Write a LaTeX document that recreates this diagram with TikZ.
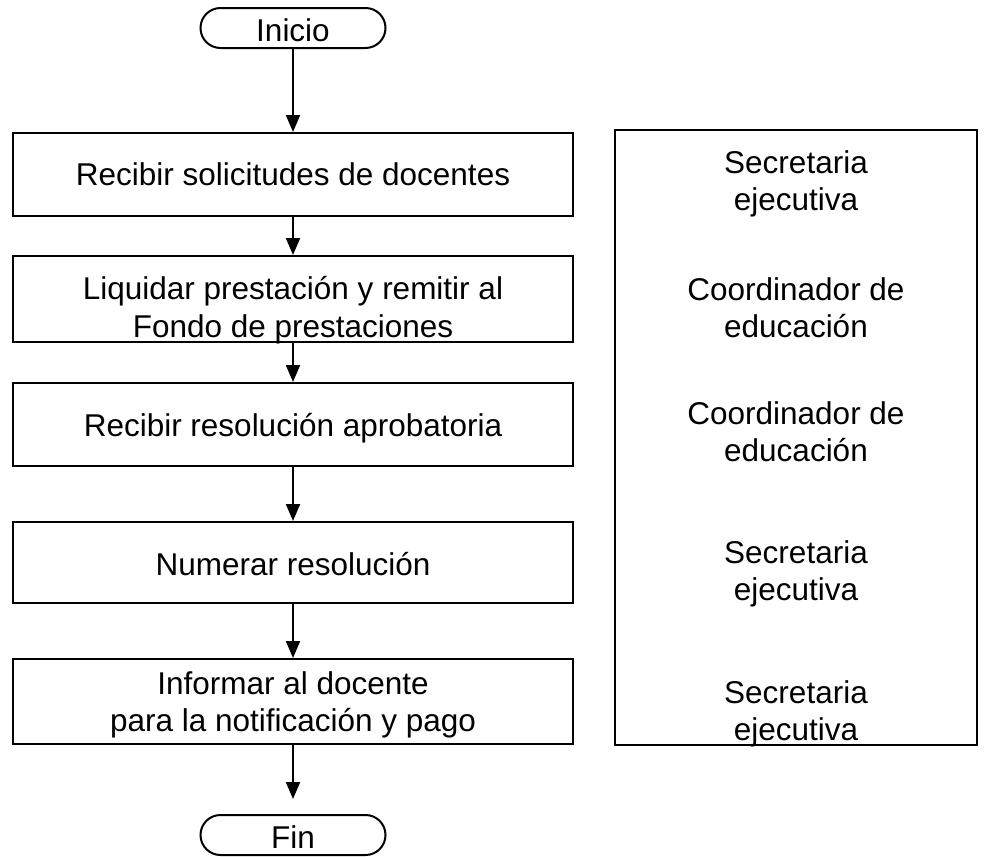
\documentclass[tikz,border=0pt]{standalone}
\usepackage{fontspec}
\setmainfont{Liberation Sans}
\usetikzlibrary{arrows.meta,shapes.misc}
\begin{document}
\begin{tikzpicture}[x=1pt,y=-1pt,
  font=\fontsize{31.5}{37}\selectfont,
  line width=2pt,
  stepbox/.style={draw, rectangle, minimum width=560pt, inner sep=0pt},
  term/.style={draw, rounded rectangle, minimum width=185pt, minimum height=40pt, inner sep=0pt},
  txt/.style={anchor=base, inner sep=0pt},
  arr/.style={-{Triangle[width=14pt,length=17pt]}}]
\useasboundingbox (0,0) rectangle (989,857);
\fill[white] (0,0) rectangle (989,857);

% terminators
\node[term] (ini) at (293,28) {};
\node[txt] (tini) at (293,41) {Inicio};
\node[term] (fin) at (293,835) {};
\node[txt] (tfin) at (293,848) {Fin};

% process boxes
\node[stepbox, minimum height=83pt] (b1) at (293,174.5) {};
\node[stepbox, minimum height=86pt] (b2) at (293,299) {};
\node[stepbox, minimum height=83pt] (b3) at (293,424.5) {};
\node[stepbox, minimum height=81pt] (b4) at (293,562.5) {};
\node[stepbox, minimum height=85pt] (b5) at (293,701.5) {};

\node[txt] (t1) at (293,185) {Recibir solicitudes de docentes};
\node[txt] (t2a) at (293,299) {Liquidar prestación y remitir al};
\node[txt] (t2b) at (293,337) {Fondo de prestaciones};
\node[txt] (t3) at (293,436) {Recibir resolución aprobatoria};
\node[txt] (t4) at (293,575) {Numerar resolución};
\node[txt] (t5a) at (293,694) {Informar al docente};
\node[txt] (t5b) at (293,731) {para la notificación y pago};

% connectors
\draw[arr] (ini) -- (b1);
\draw[arr] (b1) -- (b2);
\draw[arr] (b2) -- (b3);
\draw[arr] (b3) -- (b4);
\draw[arr] (b4) -- (b5);
\draw[arr, shorten >=15pt] (b5) -- (fin);

% responsible column
\node[draw, rectangle, minimum width=362pt, minimum height=615pt, inner sep=0pt] (resp) at (796,437.5) {};
\node[txt] (r1a) at (796,173) {Secretaria};
\node[txt] (r1b) at (796,210) {ejecutiva};
\node[txt] (r2a) at (796,300) {Coordinador de};
\node[txt] (r2b) at (796,337) {educación};
\node[txt] (r3a) at (796,424) {Coordinador de};
\node[txt] (r3b) at (796,461) {educación};
\node[txt] (r4a) at (796,563) {Secretaria};
\node[txt] (r4b) at (796,600) {ejecutiva};
\node[txt] (r5a) at (796,703) {Secretaria};
\node[txt] (r5b) at (796,740) {ejecutiva};
\end{tikzpicture}
\end{document}
